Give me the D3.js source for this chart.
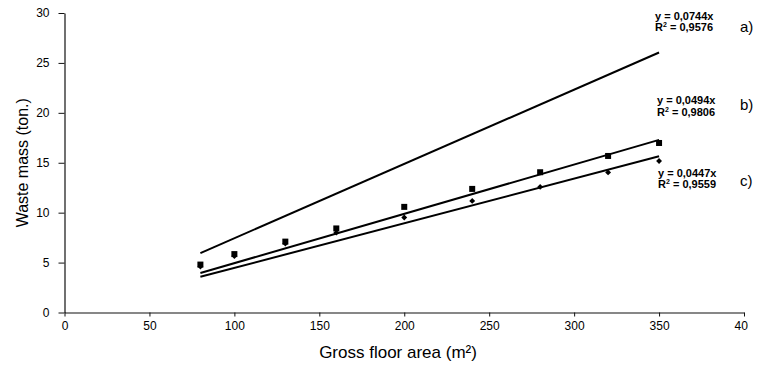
<!DOCTYPE html>
<html>
<head>
<meta charset="utf-8">
<script src="https://cdn.jsdelivr.net/npm/d3@7"></script>
<style>
  html, body { margin: 0; padding: 0; background: #fff; }
  svg { display: block; font-family: "Liberation Sans", Arial, Helvetica, sans-serif; }
</style>
</head>
<body>
<svg id="chart" width="765" height="370"></svg>
<script>
// Gross floor area (m²) of the surveyed buildings
const areas = [80, 100, 130, 160, 200, 240, 280, 320, 350];
// Measured waste mass (ton.) – squares (series b) and diamonds (series c)
const massB = [4.8, 5.85, 7.1, 8.42, 10.58, 12.38, 14.05, 15.68, 16.98];
const massC = [4.6, 5.65, 6.9, 8.0, 9.52, 11.18, 12.58, 14.03, 15.18];
// Linear trend lines through the origin: y = k·x
const seriesTags = ["a)", "b)", "c)"];
const slopes = [0.0744, 0.0494, 0.0447];
const rSquared = [0.9576, 0.9806, 0.9559];
const fitRange = [80, 350];
// Axis ticks
const xTicks = [0, 50, 100, 150, 200, 250, 300, 350, 400];
const yTicks = [0, 5, 10, 15, 20, 25, 30];

const svg = d3.select("#chart");
const x = d3.scaleLinear().domain([0, 400]).range([64.5, 744]);
const y = d3.scaleLinear().domain([0, 30]).range([312.5, 13]);

// Clip (in the x-axis group's own coordinates) so the last tick label is cut at the figure edge
svg.append("defs").append("clipPath").attr("id", "xclip")
  .append("rect").attr("x", 0).attr("y", -10).attr("width", 748).attr("height", 40);

// Y axis
const gy = svg.append("g").attr("transform", `translate(${x(0)},0)`)
  .call(d3.axisLeft(y).tickValues(yTicks).tickSize(6).tickSizeOuter(0).tickPadding(9));
gy.select(".domain").attr("stroke", "#111").attr("stroke-width", 1.2);
gy.selectAll(".tick line").attr("stroke", "#111");
gy.selectAll(".tick text").attr("font-size", 12).attr("fill", "#000")
  .attr("font-family", "'Liberation Sans', Arial, sans-serif");

// X axis
const gx = svg.append("g").attr("transform", `translate(0,${y(0)})`)
  .attr("clip-path", "url(#xclip)")
  .call(d3.axisBottom(x).tickValues(xTicks).tickSize(4).tickSizeOuter(0));
gx.select(".domain").attr("stroke", "#111").attr("stroke-width", 1.2);
gx.selectAll(".tick line").attr("stroke", "#111");
gx.selectAll(".tick text").attr("font-size", 12).attr("fill", "#000")
  .attr("y", 17).attr("dy", 0)
  .attr("font-family", "'Liberation Sans', Arial, sans-serif");

// Axis titles
svg.append("text")
  .attr("transform", `translate(28,${(y(0) + y(30)) / 2}) rotate(-90)`)
  .attr("text-anchor", "middle").attr("font-size", 16).attr("fill", "#000")
  .text("Waste mass (ton.)");

svg.append("text")
  .attr("x", 398).attr("y", 358)
  .attr("text-anchor", "middle").attr("font-size", 17).attr("fill", "#000")
  .text("Gross floor area (m²)");

// Trend lines
const trend = d3.line().x(d => x(d[0])).y(d => y(d[1]));
svg.append("g").selectAll("path")
  .data(slopes)
  .join("path")
  .attr("d", k => trend(fitRange.map(a => [a, k * a])))
  .attr("fill", "none").attr("stroke", "#000").attr("stroke-width", 2);

// Markers: diamonds (c) then squares (b)
const pts = (vals) => areas.map((a, i) => [a, vals[i]]);
svg.append("g").selectAll("path")
  .data(pts(massC))
  .join("path")
  .attr("d", d3.symbol(d3.symbolDiamond2, 22))
  .attr("transform", d => `translate(${x(d[0])},${y(d[1])})`)
  .attr("fill", "#000");
svg.append("g").selectAll("rect")
  .data(pts(massB))
  .join("rect")
  .attr("x", d => x(d[0]) - 3).attr("y", d => y(d[1]) - 3)
  .attr("width", 6).attr("height", 6)
  .attr("fill", "#000");

// Equation labels
const fmt = v => d3.format(".4f")(v).replace(".", ",");
const labelY = [19.5, 104, 176.5];
const labelX = [655, 657, 658];
const tagY = [32, 110, 186];
slopes.forEach((k, i) => {
  const g = svg.append("g").attr("font-size", 11).attr("font-weight", "bold").attr("fill", "#000");
  g.append("text").attr("x", labelX[i]).attr("y", labelY[i]).text(`y = ${fmt(k)}x`);
  const t = g.append("text").attr("x", labelX[i]).attr("y", labelY[i] + 11.5);
  t.append("tspan").text("R");
  t.append("tspan").attr("font-size", 7).attr("dy", -4).text("2");
  t.append("tspan").attr("dy", 4).text(` = ${fmt(rSquared[i])}`);
  svg.append("text").attr("x", 740).attr("y", tagY[i])
    .attr("font-size", 15).attr("fill", "#000").text(seriesTags[i]);
});
</script>
</body>
</html>
